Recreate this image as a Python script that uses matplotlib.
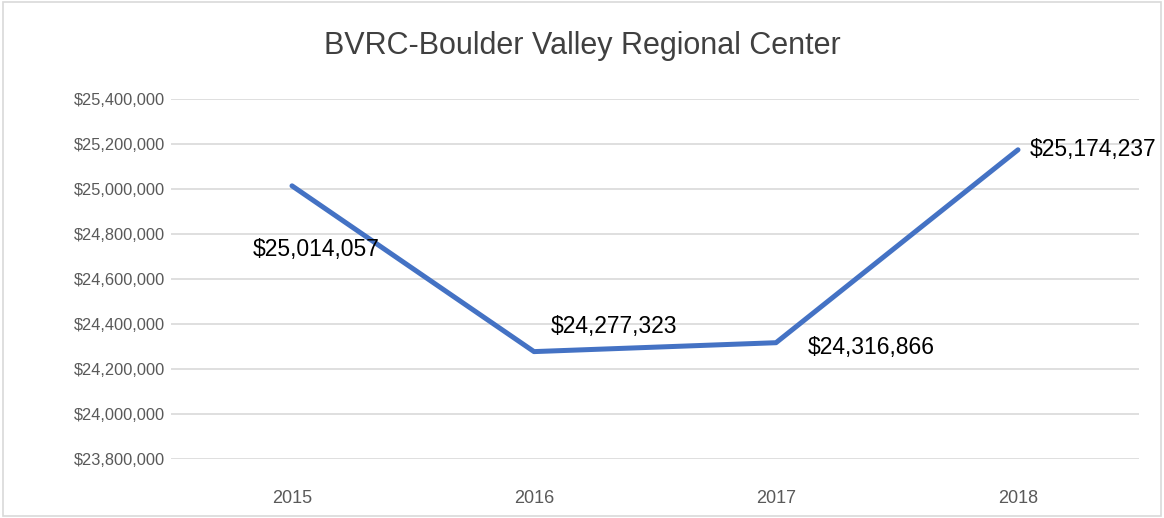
import matplotlib

matplotlib.use("Agg")
import matplotlib.pyplot as plt
from matplotlib.patches import Rectangle
from matplotlib.ticker import FuncFormatter

# --- data -------------------------------------------------------------------
years = ["2015", "2016", "2017", "2018"]
values = [25014057, 24277323, 24316866, 25174237]
y_ticks = [23800000, 24000000, 24200000, 24400000, 24600000,
           24800000, 25000000, 25200000, 25400000]

# label offsets in pixels (dx, dy) from each point
label_offsets = [(24, -64), (80, 25), (95, -5), (12, 0)]

plt.rcParams["font.family"] = ["Liberation Sans", "DejaVu Sans"]

fig = plt.figure(figsize=(11.64, 5.18), dpi=100)
ax = fig.add_axes([171 / 1164, 1 - 459 / 518, (1139 - 171) / 1164, (459 - 99) / 518])

x = list(range(len(years)))
ax.plot(x, values, color="#4472C4", linewidth=3.6, solid_capstyle="round", zorder=3)

for xi, v, (dx, dy) in zip(x, values, label_offsets):
    ax.annotate(f"${v:,.0f}", (xi, v), xytext=(dx, dy), textcoords="offset pixels",
                ha="center" if xi < 3 else "left", va="center",
                fontsize=16.5, color="#000000", annotation_clip=False)

ax.set_xlim(-0.5, len(years) - 0.5)
ax.set_ylim(y_ticks[0], y_ticks[-1])
ax.set_yticks(y_ticks)
ax.yaxis.set_major_formatter(FuncFormatter(lambda v, _: f"${v:,.0f}"))
ax.set_xticks(x)
ax.set_xticklabels(years)
ax.tick_params(axis="both", length=0, labelsize=11.8, colors="#595959")
ax.tick_params(axis="x", labelsize=13, pad=22)
ax.tick_params(axis="y", pad=4)

ax.grid(axis="y", color="#D9D9D9", linewidth=1.2)
ax.set_axisbelow(True)
for s in ax.spines.values():
    s.set_visible(False)

fig.text(0.5, 1 - 46 / 518, "BVRC-Boulder Valley Regional Center",
         ha="center", va="center", fontsize=22, color="#404040")

fig.patches.append(Rectangle((0.003, 0.004), 0.994, 0.992, transform=fig.transFigure,
                             fill=False, edgecolor="#D9D9D9", linewidth=1.2))

fig.savefig("out.png", dpi=100)
